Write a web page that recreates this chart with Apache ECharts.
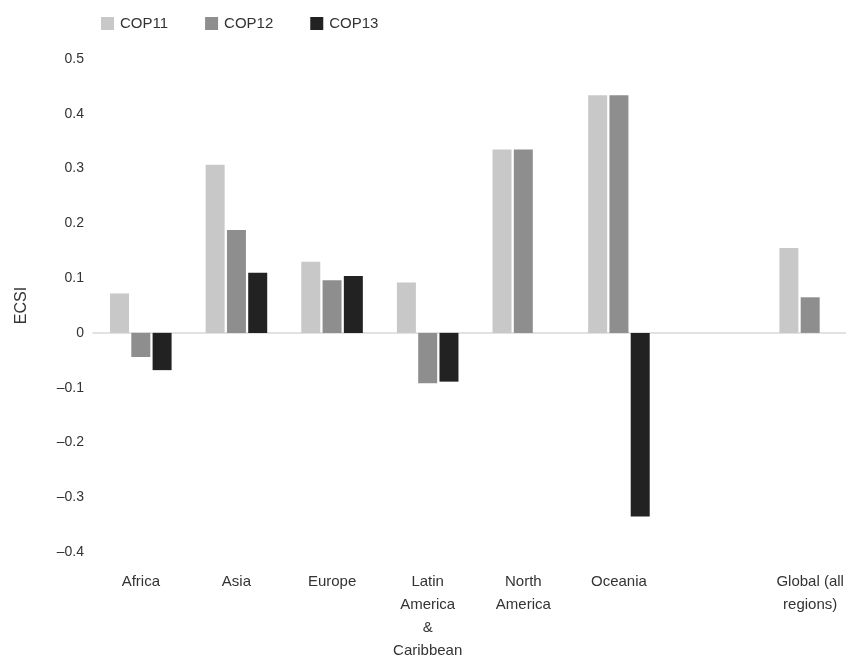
<!DOCTYPE html>
<html>
<head>
<meta charset="utf-8">
<script src="https://cdn.jsdelivr.net/npm/echarts@6/dist/echarts.min.js"></script>
<style>
html,body{margin:0;padding:0;background:#fff;}
#chart{width:846px;height:657px;}
</style>
</head>
<body>
<div id="chart"></div>
<script>
const categories = ['Africa', 'Asia', 'Europe', 'Latin\nAmerica\n&\nCaribbean', 'North\nAmerica', 'Oceania', '', 'Global (all\nregions)'];
const seriesNames = ['COP11', 'COP12', 'COP13'];
const cop11 = [0.072, 0.307, 0.130, 0.092, 0.335, 0.434, null, 0.155];
const cop12 = [-0.044, 0.188, 0.096, -0.092, 0.335, 0.434, null, 0.065];
const cop13 = [-0.068, 0.110, 0.104, -0.089, 0, -0.335, null, null];
const colors = ['#c8c8c8', '#8e8e8e', '#222222'];

const chart = echarts.init(document.getElementById('chart'), null, {renderer: 'canvas'});
const font = 'Liberation Sans, Arial, sans-serif';
chart.setOption({
  animation: false,
  textStyle: {fontFamily: font},
  legend: {
    data: seriesNames,
    left: 96, top: 11,
    icon: 'rect', itemWidth: 13, itemHeight: 13, itemGap: 37,
    textStyle: {fontSize: 15, color: '#333', fontFamily: font, padding: [0, 0, 0, 1]}
  },
  grid: {left: 93, width: 765, top: 59, bottom: 105, containLabel: false, outerBoundsMode: 'none'},
  xAxis: {
    type: 'category',
    data: categories,
    axisLine: {onZero: true, lineStyle: {color: '#d9d9d9', width: 1.5}},
    axisTick: {show: false},
    axisLabel: {
      interval: 0, fontSize: 15, color: '#333', lineHeight: 23, fontFamily: font,
      margin: 18
    }
  },
  yAxis: {
    type: 'value',
    min: -0.4, max: 0.5, interval: 0.1,
    name: 'ECSI', nameLocation: 'middle', nameGap: 63,
    nameTextStyle: {fontSize: 16, color: '#333', fontFamily: font},
    axisLine: {show: false},
    axisTick: {show: false},
    splitLine: {show: false},
    axisLabel: {
      fontSize: 14, color: '#333', margin: 9, fontFamily: font,
      formatter: v => {
        const r = Math.round(v * 10) / 10;
        if (r === 0) return '0';
        return r < 0 ? '\u2013' + Math.abs(r).toFixed(1) : r.toFixed(1);
      }
    }
  },
  series: [cop11, cop12, cop13].map((d, i) => ({
    name: seriesNames[i],
    type: 'bar',
    data: d,
    barWidth: 19,
    barGap: '12%',
    itemStyle: {color: colors[i]}
  }))
});
</script>
</body>
</html>
